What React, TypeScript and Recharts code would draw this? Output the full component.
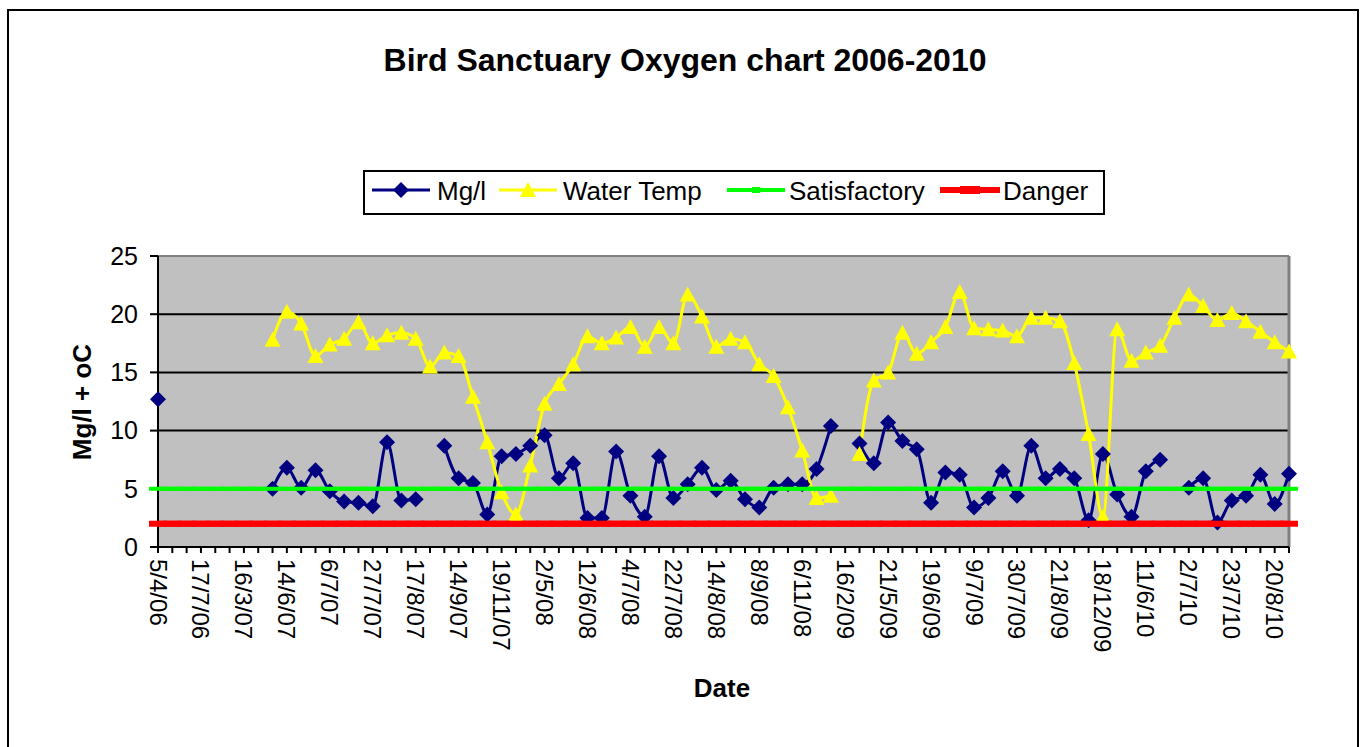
import React from 'react';
import { LineChart, Line, XAxis, YAxis, CartesianGrid, Legend, ReferenceLine } from 'recharts';

// sampling dates (every third one is labelled on the axis)
const dates = [
  '5/4/06', '3/5/06', '14/6/06', '17/7/06', '10/10/06', '5/1/07', '16/3/07', '13/4/07', '31/5/07', '14/6/07',
  '21/6/07', '28/6/07', '6/7/07', '13/7/07', '20/7/07', '27/7/07', '3/8/07', '10/8/07', '17/8/07', '24/8/07',
  '31/8/07', '14/9/07', '28/9/07', '19/10/07', '19/11/07', '17/12/07', '10/3/08', '2/5/08', '16/5/08', '29/5/08',
  '12/6/08', '20/6/08', '27/6/08', '4/7/08', '11/7/08', '16/7/08', '22/7/08', '29/7/08', '7/8/08', '14/8/08',
  '21/8/08', '29/8/08', '8/9/08', '25/9/08', '16/10/08', '6/11/08', '27/11/08', '18/12/08', '16/2/09', '23/3/09',
  '23/4/09', '21/5/09', '4/6/09', '11/6/09', '19/6/09', '25/6/09', '2/7/09', '9/7/09', '16/7/09', '23/7/09',
  '30/7/09', '6/8/09', '13/8/09', '21/8/09', '28/8/09', '13/11/09', '18/12/09', '22/1/10', '20/5/10', '11/6/10',
  '18/6/10', '25/6/10', '2/7/10', '9/7/10', '16/7/10', '23/7/10', '30/7/10', '6/8/10', '20/8/10', '27/8/10',
];

const mgl = [
  12.7, null, null, null, null, null, null, null, 5.0, 6.8,
  5.1, 6.6, 4.8, 3.9, 3.8, 3.5, 9.0, 4.0, 4.1, null,
  8.7, 5.9, 5.5, 2.8, 7.8, 8.0, 8.7, 9.6, 5.9, 7.2,
  2.5, 2.5, 8.2, 4.4, 2.6, 7.8, 4.2, 5.4, 6.8, 4.9,
  5.7, 4.1, 3.4, 5.1, 5.4, 5.4, 6.7, 10.4, null, 8.9,
  7.2, 10.7, 9.1, 8.4, 3.8, 6.4, 6.2, 3.4, 4.2, 6.5,
  4.4, 8.7, 5.9, 6.7, 5.9, 2.3, 8.0, 4.5, 2.6, 6.5,
  7.5, null, 5.1, 5.9, 2.1, 4.0, 4.4, 6.2, 3.7, 6.3,
];

const waterTemp = [
  null, null, null, null, null, null, null, null, 17.8, 20.2,
  19.2, 16.4, 17.4, 17.9, 19.3, 17.5, 18.2, 18.4, 17.9, 15.5,
  16.7, 16.4, 12.9, 9.0, 4.7, 2.8, 7.0, 12.3, 14.0, 15.7,
  18.1, 17.5, 18.0, 18.9, 17.2, 18.9, 17.5, 21.7, 19.8, 17.2,
  17.9, 17.6, 15.7, 14.7, 12.0, 8.3, 4.2, 4.4, null, 8.0,
  14.3, 15.0, 18.4, 16.6, 17.6, 18.9, 21.9, 18.8, 18.7, 18.6,
  18.1, 19.7, 19.7, 19.4, 15.8, 9.7, 2.6, 18.7, 16.0, 16.7,
  17.3, 19.7, 21.7, 20.7, 19.5, 20.1, 19.4, 18.5, 17.6, 16.8,
];

const satisfactory = [
  5, 5, 5, 5, 5, 5, 5, 5, 5, 5, 5, 5, 5, 5, 5, 5, 5, 5, 5, 5,
  5, 5, 5, 5, 5, 5, 5, 5, 5, 5, 5, 5, 5, 5, 5, 5, 5, 5, 5, 5,
  5, 5, 5, 5, 5, 5, 5, 5, 5, 5, 5, 5, 5, 5, 5, 5, 5, 5, 5, 5,
  5, 5, 5, 5, 5, 5, 5, 5, 5, 5, 5, 5, 5, 5, 5, 5, 5, 5, 5, 5,
];

const danger = [
  2, 2, 2, 2, 2, 2, 2, 2, 2, 2, 2, 2, 2, 2, 2, 2, 2, 2, 2, 2,
  2, 2, 2, 2, 2, 2, 2, 2, 2, 2, 2, 2, 2, 2, 2, 2, 2, 2, 2, 2,
  2, 2, 2, 2, 2, 2, 2, 2, 2, 2, 2, 2, 2, 2, 2, 2, 2, 2, 2, 2,
  2, 2, 2, 2, 2, 2, 2, 2, 2, 2, 2, 2, 2, 2, 2, 2, 2, 2, 2, 2,
];

const yTicks = [0, 5, 10, 15, 20, 25];

const data = dates.map((date, i) => ({
  date,
  mgl: mgl[i],
  temp: waterTemp[i],
  sat: satisfactory[i],
  danger: danger[i],
}));

const FONT = '"Liberation Sans", Arial, Helvetica, sans-serif';
const NAVY = '#000080';
const YELLOW = '#FFFF00';
const GREEN = '#00FF00';
const RED = '#FF0000';

const diamondPath = (cx: number, cy: number, r: number) =>
  `M${cx},${cy - r}L${cx + r},${cy}L${cx},${cy + r}L${cx - r},${cy}Z`;

const trianglePath = (cx: number, cy: number) =>
  `M${cx},${cy - 8}L${cx + 8},${cy + 7}L${cx - 8},${cy + 7}Z`;

const renderDiamond = (props: any) => {
  const { cx, cy, index } = props;
  if (cx == null || cy == null || props.value == null) return <g key={`dm-${index}`} />;
  return <path key={`dm-${index}`} d={diamondPath(cx, cy, 8)} fill={NAVY} />;
};

const renderTriangle = (props: any) => {
  const { cx, cy, index } = props;
  if (cx == null || cy == null || props.value == null) return <g key={`tr-${index}`} />;
  return <path key={`tr-${index}`} d={trianglePath(cx, cy)} fill={YELLOW} />;
};

const dash = (color: string, h: number) => (props: any) => {
  const { cx, cy, index } = props;
  if (cx == null || cy == null) return <g key={`ds-${index}`} />;
  return <rect key={`ds-${index}`} x={cx - 9} y={cy - h / 2} width={18} height={h} fill={color} />;
};

const XTick = (props: any) => {
  const { x, y, payload } = props;
  const i = props.index ?? payload.index;
  return (
    <g>
      <line x1={x} y1={y} x2={x} y2={y + 6} stroke="#000" strokeWidth={2} />
      {i % 3 === 0 && (
        <text
          transform={`translate(${x},${y + 12}) rotate(90)`}
          textAnchor="start"
          dominantBaseline="central"
          fontSize={24}
          fontFamily={FONT}
          fill="#000"
        >
          {payload.value}
        </text>
      )}
    </g>
  );
};

const LegendBox = () => (
  <svg width={742} height={45} style={{ display: 'block' }}>
    <rect x={1} y={1} width={740} height={43} fill="#fff" stroke="#000" strokeWidth={2} />
    <g fontFamily={FONT} fontSize={26} fill="#000">
      <line x1={9} x2={67} y1={20} y2={20} stroke={NAVY} strokeWidth={3} />
      <path d={diamondPath(38, 20, 8)} fill={NAVY} />
      <text x={74} y={30}>Mg/l</text>

      <line x1={136} x2={194} y1={20} y2={20} stroke={YELLOW} strokeWidth={3} />
      <path d={trianglePath(165, 20)} fill={YELLOW} />
      <text x={200} y={30}>Water Temp</text>

      <line x1={364} x2={422} y1={20} y2={20} stroke={GREEN} strokeWidth={4} />
      <rect x={389} y={17} width={8} height={6} fill={GREEN} />
      <text x={426} y={30}>Satisfactory</text>

      <line x1={577} x2={637} y1={20} y2={20} stroke={RED} strokeWidth={6} />
      <rect x={597} y={16} width={20} height={8} fill={RED} />
      <text x={640} y={30}>Danger</text>
    </g>
  </svg>
);

const App = () => (
  <div style={{ position: 'fixed', left: 0, top: 0, width: 1362, height: 747, background: '#fff', overflow: 'hidden' }}>
    <div
      style={{
        position: 'absolute',
        left: 7,
        top: 9,
        width: 1352,
        height: 800,
        border: '2px solid #000',
        boxSizing: 'border-box',
      }}
    />
    <div style={{ position: 'absolute', left: 0, top: 0 }}>
      <LineChart width={1362} height={747} data={data} margin={{ top: 256, right: 73, bottom: 50, left: 98 }}>
        <CartesianGrid vertical={false} stroke="#000" strokeWidth={2} fill="#C0C0C0" fillOpacity={1} />
        <XAxis
          dataKey="date"
          interval={0}
          tickSize={0}
          tickMargin={0}
          tickLine={false}
          height={150}
          axisLine={{ stroke: '#000', strokeWidth: 2 }}
          tick={<XTick />}
        />
        <YAxis
          domain={[0, 25]}
          ticks={yTicks}
          interval={0}
          width={60}
          tickSize={8}
          tickMargin={12}
          axisLine={{ stroke: '#000', strokeWidth: 2 }}
          tickLine={{ stroke: '#000', strokeWidth: 2 }}
          tick={{ fontSize: 25, fill: '#000', fontFamily: FONT }}
        />
        <ReferenceLine y={25} stroke="#808080" strokeWidth={2} />
        <ReferenceLine x={dates[dates.length - 1]} stroke="#808080" strokeWidth={3} />
        <Legend
          layout="horizontal"
          verticalAlign="middle"
          align="center"
          wrapperStyle={{ position: 'absolute', left: 363, top: 170, width: 742, height: 45, margin: 0, padding: 0 }}
          content={<LegendBox />}
        />
        <Line
          type="monotone"
          dataKey="mgl"
          name="Mg/l"
          stroke={NAVY}
          strokeWidth={3}
          dot={renderDiamond}
          activeDot={false}
          isAnimationActive={false}
        />
        <Line
          type="monotone"
          dataKey="temp"
          name="Water Temp"
          stroke={YELLOW}
          strokeWidth={3}
          dot={renderTriangle}
          activeDot={false}
          isAnimationActive={false}
        />
        <Line
          type="linear"
          dataKey="sat"
          name="Satisfactory"
          stroke={GREEN}
          strokeWidth={4}
          dot={dash(GREEN, 4)}
          activeDot={false}
          isAnimationActive={false}
        />
        <Line
          type="linear"
          dataKey="danger"
          name="Danger"
          stroke={RED}
          strokeWidth={6}
          dot={dash(RED, 6)}
          activeDot={false}
          isAnimationActive={false}
        />
      </LineChart>
    </div>
    <svg width={1362} height={747} style={{ position: 'absolute', left: 0, top: 0, pointerEvents: 'none' }}>
      <text x={685} y={71} textAnchor="middle" fontFamily={FONT} fontWeight="bold" fontSize={32} fill="#000">
        Bird Sanctuary Oxygen chart 2006-2010
      </text>
      <text
        transform="translate(91,402) rotate(-90)"
        textAnchor="middle"
        fontFamily={FONT}
        fontWeight="bold"
        fontSize={26}
        fill="#000"
      >
        Mg/l + oC
      </text>
      <text x={722} y={697} textAnchor="middle" fontFamily={FONT} fontWeight="bold" fontSize={26} fill="#000">
        Date
      </text>
    </svg>
  </div>
);

export default App;
